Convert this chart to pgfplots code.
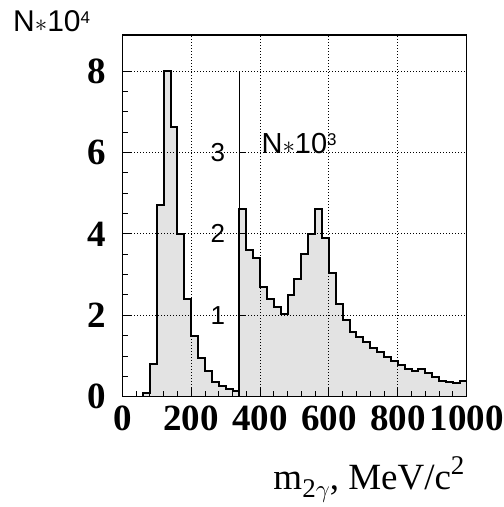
\documentclass[border=0pt]{standalone}
\usepackage{fontspec}
\setmainfont{Liberation Serif}
\newfontfamily\hel{Liberation Sans}
\usepackage{pgfplots}
\usepackage{pgfplotstable}
\pgfplotsset{compat=1.18}

% two-photon invariant mass, 20 MeV bins
% low-mass part, counts in units of 10^4
\pgfplotstableread{
x   n
60  0.10
80  0.80
100 4.70
120 8.00
140 6.62
160 4.00
180 2.40
200 1.49
220 0.94
240 0.63
260 0.37
280 0.27
300 0.19
320 0.14
340 0.14
}\lowmass

% high-mass part, counts in units of 10^3
\pgfplotstableread{
x    n
340  2.30
360  1.80
380  1.70
400  1.345
420  1.195
440  1.10
460  1.015
480  1.25
500  1.445
520  1.75
540  1.995
560  2.30
580  1.945
600  1.52
620  1.14
640  0.94
660  0.795
680  0.735
700  0.67
720  0.595
740  0.545
760  0.49
780  0.44
800  0.39
820  0.345
840  0.32
860  0.345
880  0.295
900  0.24
920  0.195
940  0.185
960  0.17
980  0.195
1000 0.195
}\highmass

\tikzset{innerlab/.style={anchor=east, inner sep=0pt, xshift=-14pt,
  font=\hel\fontsize{26}{26}\selectfont}}

\begin{document}
\begin{tikzpicture}
\begin{axis}[
  scale only axis,
  width=344.4pt, height=361.7pt,
  xmin=0, xmax=1000, ymin=0, ymax=8.885,
  axis on top,
  tick pos=left,
  tick align=inside,
  major tick length=10pt, minor tick length=6pt,
  xtick={0,200,...,1000}, minor x tick num=4,
  ytick={0,2,4,6,8}, minor y tick num=3,
  every tick/.style={black, line width=0.9pt},
  axis line style={line width=1.2pt},
  grid=major,
  major grid style={black, line width=0.9pt, dash pattern=on 0.9pt off 2.1pt},
  /pgf/number format/assume math mode=true,
  /pgf/number format/1000 sep={},
  xticklabel style={inner sep=0pt, yshift=-9pt, font=\fontsize{37}{37}\selectfont\bfseries},
  yticklabel style={inner sep=0pt, xshift=-15.6pt, font=\fontsize{37}{37}\selectfont\bfseries},
]
\coordinate (o) at (rel axis cs:0,0);
\coordinate (tl) at (rel axis cs:0,1);
\coordinate (br) at (rel axis cs:1,0);

\addplot[const plot, draw=black, line width=2pt, fill=black!11]
  table[x=x, y=n] {\lowmass} \closedcycle;

\addplot[const plot, draw=black, line width=2pt, fill=black!11]
  table[x=x, y expr=2*\thisrow{n}] {\highmass} \closedcycle;

% secondary scale for the high-mass part
\draw[black, line width=1.2pt] (axis cs:340,0) -- (axis cs:340,8);
\draw[black, line width=0.9pt] (axis cs:340,2) -- ++(7pt,0);
\draw[black, line width=0.9pt] (axis cs:340,4) -- ++(7pt,0);
\draw[black, line width=0.9pt] (axis cs:340,6) -- ++(7pt,0);
\node[innerlab] at (axis cs:340,2) {1};
\node[innerlab] at (axis cs:340,4) {2};
\node[innerlab] at (axis cs:340,6) {3};
\node[anchor=base west, inner sep=0pt, xshift=22pt, yshift=-1pt,
  font=\hel\fontsize{29}{29}\selectfont]
  at (axis cs:340,6)
  {N$\ast$10\raisebox{8pt}{\fontsize{17}{17}\selectfont 3}};
\end{axis}

\node[anchor=base west, inner sep=0pt, xshift=-109.3pt, yshift=3.3pt,
  font=\hel\fontsize{30}{30}\selectfont]
  at (tl)
  {N$\ast$10\raisebox{8pt}{\fontsize{17}{17}\selectfont 4}};

\node[anchor=base east, inner sep=0pt, xshift=-2pt, yshift=-93pt,
  font=\fontsize{37}{37}\selectfont]
  at (br)
  {m\raisebox{-8pt}{\fontsize{27}{27}\selectfont 2$\gamma$}, MeV/c\raisebox{15pt}{\fontsize{27}{27}\selectfont 2}};

\pgfresetboundingbox
\useasboundingbox (o) ++(-122.3pt,-110.3pt) rectangle ++(504pt,507pt);
\end{tikzpicture}
\end{document}
